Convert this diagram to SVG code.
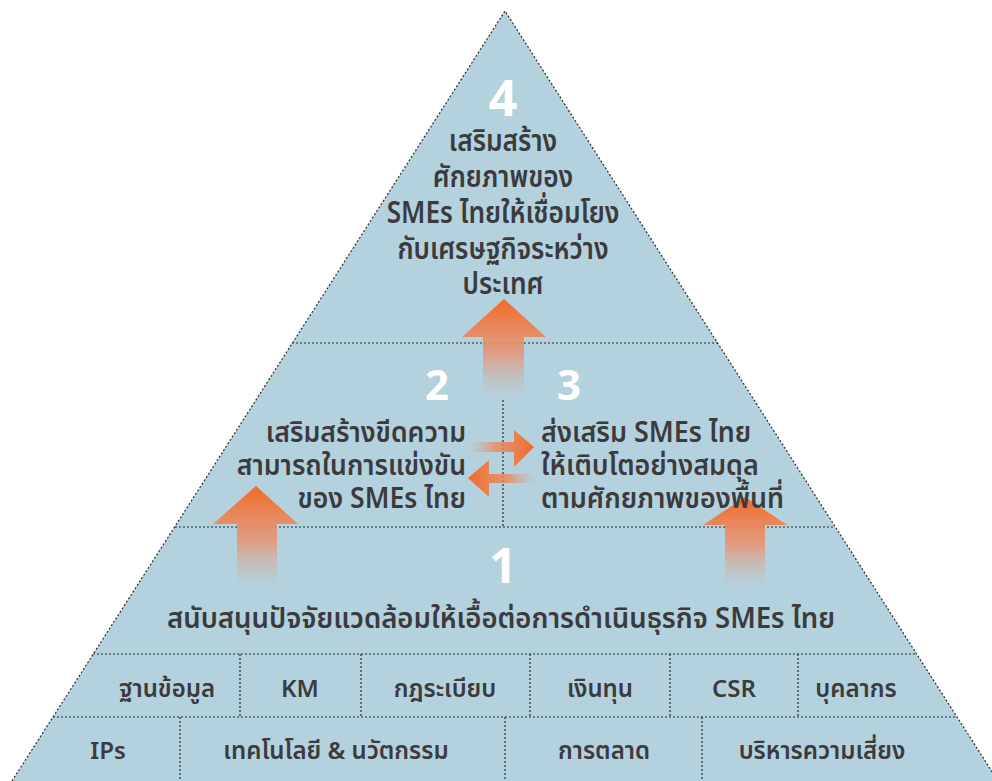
<svg xmlns="http://www.w3.org/2000/svg" width="992" height="781" viewBox="0 0 992 781">
<style>
.t{font-family:"Noto Sans Thai","Noto Sans","DejaVu Sans",sans-serif;font-weight:600;fill:#3b3b3d}
.n{font-family:"Noto Sans","DejaVu Sans",sans-serif;font-weight:700;fill:#ffffff;text-anchor:middle}
.d{stroke:#2a2a2a;stroke-width:1.2;stroke-dasharray:2 2;fill:none}
.c{text-anchor:middle}
.e{text-anchor:end}
</style>
<defs>
<linearGradient id="gv" x1="0" y1="0" x2="0" y2="1">
<stop offset="0" stop-color="#f26a26"/>
<stop offset="0.55" stop-color="#e89576" stop-opacity="0.85"/>
<stop offset="1" stop-color="#c6b6b4" stop-opacity="0"/>
</linearGradient>
<linearGradient id="gr" x1="1" y1="0" x2="0" y2="0">
<stop offset="0" stop-color="#f26a26"/>
<stop offset="0.6" stop-color="#ea8a62" stop-opacity="0.8"/>
<stop offset="1" stop-color="#d0a898" stop-opacity="0"/>
</linearGradient>
<linearGradient id="gl" x1="0" y1="0" x2="1" y2="0">
<stop offset="0" stop-color="#f26a26"/>
<stop offset="0.6" stop-color="#ea8a62" stop-opacity="0.8"/>
<stop offset="1" stop-color="#d0a898" stop-opacity="0"/>
</linearGradient>
</defs>
<rect width="992" height="781" fill="#ffffff"/>
<g id="pyramid">
<polygon points="505,11 12,781 998,781" fill="#b4d2dd"/>
<polyline class="d" points="12,781 505,11 998,781"/>
<line class="d" x1="292" y1="343" x2="718" y2="343"/>
<line class="d" x1="175" y1="527" x2="835" y2="527"/>
<line class="d" x1="93" y1="654" x2="917" y2="654"/>
<line class="d" x1="53" y1="717" x2="957" y2="717"/>
<line class="d" x1="503" y1="400" x2="503" y2="527"/>
<line class="d" x1="240" y1="654" x2="240" y2="717"/>
<line class="d" x1="361" y1="654" x2="361" y2="717"/>
<line class="d" x1="530" y1="654" x2="530" y2="717"/>
<line class="d" x1="670" y1="654" x2="670" y2="717"/>
<line class="d" x1="798" y1="654" x2="798" y2="717"/>
<line class="d" x1="180" y1="717" x2="180" y2="781"/>
<line class="d" x1="505" y1="717" x2="505" y2="781"/>
<line class="d" x1="702" y1="717" x2="702" y2="781"/>
</g>
<g id="connectors">
<polygon fill="url(#gv)" points="504,299 546,337 524,337 524,399 483,399 483,337 462,337"/>
<polygon fill="url(#gv)" points="256,486 298,524 277,524 277,588 237,588 237,524 213,524"/>
<polygon fill="url(#gv)" points="745,497 787,525 765,525 765,588 725,588 725,525 703,525"/>
<polygon fill="url(#gr)" points="534,447 514,430 514,442 468,442 468,452 514,452 514,467"/>
<polygon fill="url(#gl)" points="468,478 489,460 489,474 536,474 536,483 489,483 489,497"/>
</g>
<g id="tier4">
<text class="n" x="503" y="116" font-size="50">4</text>
<g transform="translate(503 0) scale(0.875 1)">
<text class="t c" font-size="30"><tspan x="0" y="151">เสริมสร้าง</tspan><tspan x="0" y="187">ศักยภาพของ</tspan><tspan x="0" y="223">SMEs ไทยให้เชื่อมโยง</tspan><tspan x="0" y="259">กับเศรษฐกิจระหว่าง</tspan><tspan x="0" y="294">ประเทศ</tspan></text>
</g>
</g>
<g id="tier2">
<text class="n" x="437" y="400" font-size="42">2</text>
<g transform="translate(466 0) scale(0.95 1)">
<text class="t e" font-size="28"><tspan x="0" y="442">เสริมสร้างขีดความ</tspan><tspan x="0" y="475">สามารถในการแข่งขัน</tspan><tspan x="0" y="508">ของ SMEs ไทย</tspan></text>
</g>
</g>
<g id="tier3">
<text class="n" x="569" y="400" font-size="42">3</text>
<g transform="translate(541 0) scale(0.96 1)">
<text class="t" font-size="28"><tspan x="0" y="442">ส่งเสริม SMEs ไทย</tspan><tspan x="0" y="475">ให้เติบโตอย่างสมดุล</tspan><tspan x="0" y="508">ตามศักยภาพของพื้นที่</tspan></text>
</g>
</g>
<g id="tier1">
<text class="n" x="503" y="583" font-size="48">1</text>
<g transform="translate(501 0) scale(0.95 1)">
<text class="t c" x="0" y="628" font-size="29">สนับสนุนปัจจัยแวดล้อมให้เอื้อต่อการดำเนินธุรกิจ SMEs ไทย</text>
</g>
</g>
<g id="cell-database"><text class="t c" x="167" y="697" font-size="24">ฐานข้อมูล</text></g>
<g id="cell-km"><text class="t c" x="300" y="697" font-size="24">KM</text></g>
<g id="cell-regulation"><text class="t c" x="445" y="697" font-size="24">กฎระเบียบ</text></g>
<g id="cell-funding"><text class="t c" x="600" y="697" font-size="24">เงินทุน</text></g>
<g id="cell-csr"><text class="t c" x="734" y="697" font-size="24">CSR</text></g>
<g id="cell-personnel"><text class="t c" x="856" y="697" font-size="24">บุคลากร</text></g>
<g id="cell-ips"><text class="t c" x="108" y="759" font-size="24">IPs</text></g>
<g id="cell-tech"><text class="t c" x="336" y="759" font-size="24">เทคโนโลยี &amp; นวัตกรรม</text></g>
<g id="cell-marketing"><text class="t c" x="604" y="759" font-size="24">การตลาด</text></g>
<g id="cell-risk"><text class="t c" x="822" y="759" font-size="24">บริหารความเสี่ยง</text></g>
</svg>
